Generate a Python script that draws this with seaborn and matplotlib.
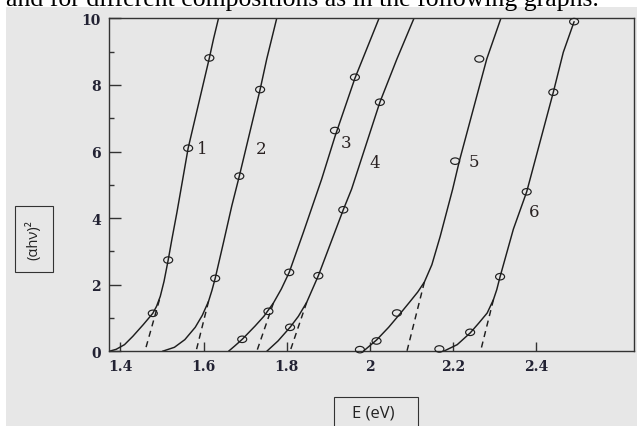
import numpy as np
import pandas as pd
import matplotlib
matplotlib.use("Agg")
import matplotlib.pyplot as plt
from matplotlib.patches import Rectangle
from matplotlib.path import Path
from matplotlib.transforms import Affine2D
from matplotlib.ticker import FixedLocator, MultipleLocator
import seaborn as sns

# ---------------- data ----------------
# solid curves (E in eV, (alpha h nu)^2)
c1_x = [1.373, 1.390, 1.410, 1.430, 1.455, 1.478, 1.487, 1.496, 1.505, 1.515, 1.524, 1.536, 1.550, 1.563, 1.614, 1.624, 1.636]
c1_y = [0.00, 0.06, 0.20, 0.45, 0.80, 1.14, 1.35, 1.65, 2.10, 2.74, 3.37, 4.17, 5.17, 6.10, 8.81, 9.38, 10.0]
c2_x = [1.501, 1.530, 1.555, 1.580, 1.597, 1.612, 1.620, 1.628, 1.648, 1.668, 1.686, 1.736, 1.752, 1.776]
c2_y = [0.00, 0.12, 0.35, 0.72, 1.08, 1.50, 1.82, 2.19, 3.27, 4.37, 5.26, 7.86, 8.78, 10.0]
c3_x = [1.660, 1.675, 1.693, 1.724, 1.745, 1.768, 1.787, 1.806, 1.840, 1.884, 1.916, 1.964, 2.022]
c3_y = [0.00, 0.16, 0.36, 0.76, 1.05, 1.45, 1.87, 2.37, 3.57, 5.17, 6.45, 8.20, 10.0]
c4_x = [1.752, 1.779, 1.808, 1.828, 1.848, 1.876, 1.936, 1.956, 2.024, 2.065, 2.106]
c4_y = [0.00, 0.31, 0.72, 1.05, 1.47, 2.27, 4.25, 4.87, 7.48, 8.78, 10.0]
c5_x = [1.984, 2.016, 2.045, 2.072, 2.095, 2.115, 2.131, 2.149, 2.169, 2.199, 2.215, 2.281, 2.315]
c5_y = [0.00, 0.34, 0.72, 1.12, 1.47, 1.78, 2.08, 2.60, 3.45, 4.87, 5.71, 8.78, 10.0]
c6_x = [2.177, 2.210, 2.241, 2.262, 2.282, 2.297, 2.305, 2.313, 2.345, 2.377, 2.441, 2.465, 2.491]
c6_y = [0.00, 0.20, 0.55, 0.85, 1.15, 1.55, 1.85, 2.24, 3.67, 4.79, 7.78, 8.98, 9.90]

# measured points (open circles)
p1_x = [1.478, 1.515, 1.563, 1.614]
p1_y = [1.14, 2.74, 6.10, 8.81]
p2_x = [1.628, 1.686, 1.736]
p2_y = [2.19, 5.26, 7.86]
p3_x = [1.693, 1.756, 1.806, 1.916, 1.964]
p3_y = [0.36, 1.20, 2.37, 6.63, 8.23]
p4_x = [1.808, 1.876, 1.936, 2.024]
p4_y = [0.72, 2.27, 4.25, 7.48]
p5_x = [1.976, 2.016, 2.065, 2.205, 2.263]
p5_y = [0.05, 0.31, 1.15, 5.71, 8.78]
p6_x = [2.167, 2.241, 2.313, 2.377, 2.441, 2.491]
p6_y = [0.07, 0.57, 2.24, 4.79, 7.78, 9.90]

# dashed extrapolations (tangent point -> intercept on E axis)
d_x = [[1.494, 1.459], [1.612, 1.582], [1.768, 1.728],
       [1.848, 1.808], [2.131, 2.089], [2.297, 2.266]]
d_y = [[1.55, 0.0], [1.50, 0.0], [1.45, 0.0],
       [1.47, 0.0], [2.08, 0.0], [1.55, 0.0]]

# curve labels
lab_text = ["1", "2", "3", "4", "5", "6"]
lab_x = [1.596, 1.738, 1.943, 2.012, 2.251, 2.395]
lab_y = [6.08, 6.08, 6.28, 5.68, 5.69, 4.19]

x_ticks = [1.4, 1.6, 1.8, 2.0, 2.2, 2.4]
x_ticklabels = ["1.4", "1.6", "1.8", "2", "2.2", "2.4"]
y_ticks = [0, 2, 4, 6, 8, 10]
y_ticklabels = ["0", "2", "4", "6", "8", "10"]

caption = "and for different compositions as in the following graphs."
x_label = "E (eV)"
y_label = "(αhν)²"

# ---------------- style ----------------
sns.set_style("white")
plt.rcParams['font.family'] = ['DejaVu Sans']

W, H = 637, 427
BG = '#e7e7e7'
INK = '#1e1e1e'

fig = plt.figure(figsize=(W / 100, H / 100), dpi=100)
fig.patch.set_facecolor('white')
fig.patches.append(Rectangle((6 / W, 0), 1 - 6 / W, (H - 7.5) / H,
                             transform=fig.transFigure, facecolor=BG,
                             edgecolor='none', zorder=-5))
fig.text(6 / W, 1 - 6 / H, caption, family='Liberation Serif', fontsize=18.5,
         ha='left', va='baseline', color='black', zorder=2)

ax = fig.add_axes([109 / W, 1 - 352.3 / H, (634 - 109) / W, (352.3 - 19.3) / H])
ax.set_facecolor(BG)
ax.set_zorder(1)

curves = [(c1_x, c1_y), (c2_x, c2_y), (c3_x, c3_y), (c4_x, c4_y), (c5_x, c5_y), (c6_x, c6_y)]
points = [(p1_x, p1_y), (p2_x, p2_y), (p3_x, p3_y), (p4_x, p4_y), (p5_x, p5_y), (p6_x, p6_y)]

for cx, cy in curves:
    sns.lineplot(x=cx, y=cy, sort=False, estimator=None, color=INK, lw=1.05, ax=ax)
for dx, dy in zip(d_x, d_y):
    sns.lineplot(x=dx, y=dy, sort=False, estimator=None, color=INK, lw=1.05,
                 linestyle=(0, (4.2, 3.2)), ax=ax)

ell = Affine2D().scale(1.0, 0.72).transform_path(Path.unit_circle())
for px, py in points:
    ax.scatter(px, py, marker=ell, s=42, facecolors='none', edgecolors=INK,
               linewidths=0.85, zorder=4, clip_on=False)

for t, lx, ly in zip(lab_text, lab_x, lab_y):
    ax.text(lx, ly, t, family='DejaVu Serif', fontsize=12, ha='center', va='center',
            color='#2a2222')

ax.set_xlim(1.3727, 2.6350)
ax.set_ylim(0, 10)
ax.xaxis.set_major_locator(FixedLocator(x_ticks))
ax.set_xticklabels(x_ticklabels)
ax.yaxis.set_major_locator(FixedLocator(y_ticks))
ax.set_yticklabels(y_ticklabels)
ax.yaxis.set_minor_locator(MultipleLocator(1))
for lbl in ax.get_xticklabels() + ax.get_yticklabels():
    lbl.set_family('DejaVu Serif')
    lbl.set_fontweight('bold')
    lbl.set_fontsize(10)
    lbl.set_color('#222233')

ax.tick_params(axis='x', which='major', direction='in', length=6.5, width=1.0,
               color='#333333', pad=5.8, bottom=True)
ax.tick_params(axis='y', which='major', direction='in', length=8.6, width=1.0,
               color='#333333', pad=5.8, left=True)
ax.tick_params(axis='y', which='minor', direction='in', length=3.6, width=1.0,
               color='#333333', left=True)
for s in ax.spines.values():
    s.set_visible(True)
    s.set_color('#333333')
    s.set_linewidth(1.0)
ax.set_xlabel('')
ax.set_ylabel('')

# boxed axis titles
fig.patches.append(Rectangle((334 / W, -13 / H), 84.3 / W, (440 - 398.3) / H,
                             transform=fig.transFigure, fill=False,
                             edgecolor='#333333', lw=0.8, zorder=3))
fig.text(373 / W, 1 - 414 / H, x_label, family='Open Sans', fontsize=12,
         ha='center', va='center', color='#222222')
fig.patches.append(Rectangle((15.3 / W, 1 - 273.3 / H), 38 / W, 66.6 / H,
                             transform=fig.transFigure, fill=False,
                             edgecolor='#333333', lw=0.8, zorder=3))
fig.text(33.5 / W, 1 - 240.5 / H, y_label, family='Open Sans', fontsize=10.5,
         rotation=90, ha='center', va='center', color='#222222')

fig.savefig('out.png', dpi=100, facecolor=fig.get_facecolor())
